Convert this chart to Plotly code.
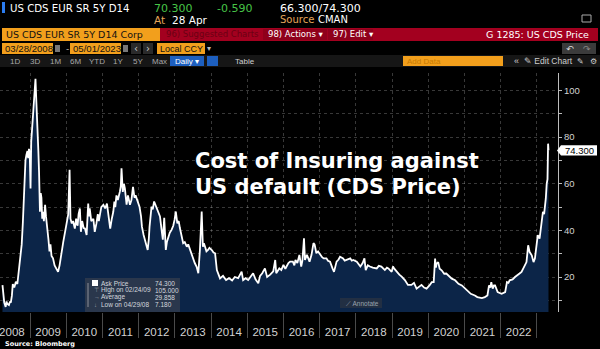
import plotly.graph_objects as go

# US CDS EUR SR 5Y D14 ask price, 2008-2023 (date, value)
dates = [
    "2008-03-28", "2008-04-05", "2008-04-15", "2008-04-29", "2008-05-08", "2008-05-15", "2008-06-01",
    "2008-06-12", "2008-06-20", "2008-07-01", "2008-07-10", "2008-07-25", "2008-08-10", "2008-08-25",
    "2008-09-05", "2008-09-20", "2008-10-01", "2008-10-08", "2008-10-20", "2008-10-28", "2008-11-05",
    "2008-11-15", "2008-11-25", "2008-12-05", "2008-12-12", "2008-12-20", "2008-12-28", "2009-01-05",
    "2009-01-12", "2009-01-20", "2009-01-28", "2009-02-05", "2009-02-12", "2009-02-24", "2009-03-05",
    "2009-03-12", "2009-03-18", "2009-03-25", "2009-04-01", "2009-04-10", "2009-04-18", "2009-04-25",
    "2009-05-03", "2009-05-10", "2009-05-20", "2009-06-01", "2009-06-10", "2009-06-25", "2009-07-05",
    "2009-07-15", "2009-07-25", "2009-08-05", "2009-08-20", "2009-09-05", "2009-09-25", "2009-10-10",
    "2009-10-25", "2009-11-10", "2009-11-20", "2009-12-01", "2009-12-20", "2010-01-05", "2010-01-20",
    "2010-02-03", "2010-02-12", "2010-02-25", "2010-03-10", "2010-03-28", "2010-04-10", "2010-04-25",
    "2010-05-05", "2010-05-18", "2010-05-28", "2010-06-10", "2010-06-25", "2010-07-08", "2010-07-25",
    "2010-08-10", "2010-08-18", "2010-08-25", "2010-09-10", "2010-10-01", "2010-10-15", "2010-11-01",
    "2010-11-15", "2010-11-25", "2010-12-05", "2010-12-20", "2011-01-10", "2011-01-28", "2011-02-15",
    "2011-03-05", "2011-03-20", "2011-04-05", "2011-04-20", "2011-05-01", "2011-05-10", "2011-05-22",
    "2011-06-05", "2011-06-25", "2011-07-05", "2011-07-12", "2011-07-25", "2011-08-05", "2011-08-15",
    "2011-09-01", "2011-09-15", "2011-10-05", "2011-10-20", "2011-11-05", "2011-11-20", "2011-12-01",
    "2011-12-25", "2012-01-10", "2012-01-25", "2012-02-03", "2012-02-20", "2012-03-05", "2012-04-01",
    "2012-04-12", "2012-04-20", "2012-05-10", "2012-05-22", "2012-06-05", "2012-06-25", "2012-07-15",
    "2012-08-03", "2012-08-20", "2012-09-01", "2012-09-15", "2012-10-01", "2012-10-12", "2012-10-25",
    "2012-11-10", "2012-11-28", "2012-12-15", "2012-12-28", "2013-01-10", "2013-01-25", "2013-02-08",
    "2013-02-20", "2013-03-10", "2013-03-25", "2013-04-10", "2013-05-01", "2013-05-15", "2013-06-03",
    "2013-06-20", "2013-07-05", "2013-07-20", "2013-08-08", "2013-08-25", "2013-09-10", "2013-09-28",
    "2013-10-10", "2013-10-20", "2013-11-01", "2013-11-15", "2013-12-01", "2013-12-15", "2014-01-08",
    "2014-01-25", "2014-02-10", "2014-02-28", "2014-04-01", "2014-05-01", "2014-06-01", "2014-07-01",
    "2014-08-01", "2014-08-28", "2014-10-01", "2014-11-05", "2014-11-20", "2014-12-15", "2015-01-10",
    "2015-02-01", "2015-03-01", "2015-03-25", "2015-04-22", "2015-05-10", "2015-06-01", "2015-06-28",
    "2015-07-20", "2015-08-20", "2015-09-20", "2015-10-10", "2015-10-20", "2015-11-20", "2015-12-10",
    "2016-01-01", "2016-01-20", "2016-02-01", "2016-02-20", "2016-03-08", "2016-04-05", "2016-04-20",
    "2016-05-01", "2016-05-20", "2016-06-10", "2016-06-28", "2016-07-10", "2016-07-26", "2016-08-05",
    "2016-08-25", "2016-09-20", "2016-10-10", "2016-10-30", "2016-11-10", "2016-11-28", "2016-12-15",
    "2017-01-05", "2017-01-25", "2017-02-10", "2017-03-10", "2017-03-25", "2017-04-15", "2017-05-10",
    "2017-05-25", "2017-06-20", "2017-07-10", "2017-07-25", "2017-08-25", "2017-09-10", "2017-10-01",
    "2017-11-05", "2017-11-20", "2017-12-05", "2018-01-10", "2018-02-15", "2018-03-10", "2018-03-28",
    "2018-04-10", "2018-05-01", "2018-05-22", "2018-06-20", "2018-07-30", "2018-08-20", "2018-09-15",
    "2018-10-20", "2018-11-10", "2018-11-25", "2018-12-28", "2019-01-10", "2019-01-25", "2019-02-25",
    "2019-03-15", "2019-04-08", "2019-05-10", "2019-06-10", "2019-07-15", "2019-08-10", "2019-09-05",
    "2019-10-05", "2019-10-25", "2019-11-20", "2019-12-15", "2020-01-15", "2020-02-05", "2020-02-25",
    "2020-03-10", "2020-03-18", "2020-03-25", "2020-04-10", "2020-04-25", "2020-05-15", "2020-06-10",
    "2020-07-01", "2020-07-20", "2020-08-25", "2020-09-28", "2020-11-01", "2020-12-05", "2021-01-10",
    "2021-02-10", "2021-03-05", "2021-04-15", "2021-05-10", "2021-06-25", "2021-07-25", "2021-08-20",
    "2021-09-05", "2021-09-18", "2021-09-28", "2021-10-12", "2021-10-25", "2021-11-05", "2021-12-01",
    "2022-01-10", "2022-02-15", "2022-03-05", "2022-03-20", "2022-04-01", "2022-05-01", "2022-05-25",
    "2022-06-20", "2022-07-10", "2022-07-30", "2022-09-01", "2022-09-18", "2022-10-05", "2022-10-12",
    "2022-10-20", "2022-11-10", "2022-11-28", "2022-12-12", "2022-12-28", "2023-01-10", "2023-01-28",
    "2023-02-10", "2023-02-18", "2023-03-03", "2023-03-15", "2023-03-25", "2023-04-01", "2023-04-10",
    "2023-04-18", "2023-04-24", "2023-04-28",
]
ask_price = [
    16.5, 12.0, 9.0, 7.18, 9.5, 8.5, 8.0,
    9.5, 9.0, 12.0, 17.0, 15.5, 18.0, 17.0,
    22.0, 28.0, 31.0, 34.0, 43.6, 52.0, 60.0,
    70.0, 72.5, 74.0, 71.0, 75.0, 73.0, 58.0,
    78.0, 84.0, 88.0, 91.0, 97.0, 105.0, 95.0,
    89.0, 82.0, 74.0, 65.0, 48.0, 56.0, 54.0,
    45.0, 48.0, 44.0, 51.0, 46.0, 41.0, 36.0,
    31.0, 34.0, 29.0, 28.0, 25.0, 23.6, 22.2,
    25.0, 30.6, 32.0, 35.0, 39.4, 43.6, 46.7,
    66.0, 45.0, 43.0, 44.0, 40.8, 45.0, 42.0,
    47.0, 49.4, 39.4, 44.0, 41.0, 40.8, 38.0,
    51.5, 46.0, 49.4, 44.0, 45.0, 39.4, 43.0,
    47.0, 44.0, 46.7, 50.0, 51.0, 49.4, 51.5,
    46.7, 40.8, 45.0, 48.0, 52.3, 50.0, 55.0,
    53.0, 56.5, 59.0, 66.6, 56.5, 60.0, 58.0,
    51.0, 55.0, 51.0, 53.0, 58.7, 54.0, 55.0,
    52.0, 50.0, 46.0, 41.6, 38.0, 36.0, 31.6,
    36.0, 41.6, 50.2, 49.0, 52.4, 50.2, 48.0,
    46.0, 40.0, 36.0, 45.4, 31.6, 35.0, 37.3,
    39.0, 40.2, 42.0, 44.5, 48.1, 43.0, 44.0,
    41.0, 37.0, 34.5, 35.0, 33.0, 34.0, 31.6,
    30.0, 28.0, 26.0, 24.4, 21.6, 31.6, 48.1,
    33.0, 34.5, 33.0, 31.0, 31.6, 32.5, 31.6,
    30.5, 30.2, 23.0, 19.4, 20.5, 18.7, 19.5,
    18.5, 20.0, 19.5, 22.3, 18.7, 19.5, 18.7,
    20.0, 21.6, 19.0, 17.3, 20.5, 21.6, 23.7,
    20.0, 21.0, 22.4, 27.3, 21.6, 23.7, 23.0,
    25.2, 23.5, 24.5, 26.0, 26.6, 26.6, 25.0,
    27.3, 26.0, 29.5, 24.5, 27.0, 36.6, 27.3,
    29.5, 26.6, 29.5, 34.5, 34.0, 30.2, 31.0,
    29.5, 28.5, 28.0, 28.0, 27.0, 26.6, 23.7,
    22.2, 26.6, 27.5, 28.7, 28.0, 27.0, 27.3,
    28.0, 27.0, 27.3, 26.6, 24.5, 26.0, 28.0,
    23.0, 25.0, 24.5, 24.0, 23.7, 24.8, 24.5,
    23.0, 24.0, 23.7, 22.2, 24.5, 23.5, 21.6,
    21.0, 20.2, 18.7, 16.6, 16.6, 17.5, 15.0,
    16.0, 16.6, 15.5, 15.0, 16.5, 17.8, 17.8,
    27.9, 24.0, 25.7, 26.4, 23.6, 22.9, 21.4,
    21.5, 20.7, 19.3, 18.6, 17.1, 16.4, 15.0,
    13.5, 12.8, 12.1, 11.4, 11.0, 11.4, 12.1,
    16.4, 15.5, 17.8, 15.0, 16.4, 16.4, 13.5,
    12.8, 13.5, 17.8, 17.5, 18.6, 19.0, 20.0,
    20.7, 21.5, 22.2, 25.0, 26.4, 33.6, 31.0,
    30.7, 29.3, 26.4, 27.9, 35.0, 38.0, 36.5,
    42.0, 45.0, 48.0, 47.0, 50.8, 53.7, 60.0,
    62.0, 77.2, 74.3,
]

year_labels = [str(y) for y in range(2008, 2023)]
year_label_pos = [f"{y}-07-01" for y in range(2008, 2023)]
y_tick_vals = list(range(10, 101, 10))
y_tick_text = [str(v) if v % 20 == 0 else "" for v in y_tick_vals]

stat_labels = ["Ask Price", "High on 02/24/09", "Average", "Low on 04/29/08"]
stat_values = [ask_price[-1], max(ask_price), 29.858, min(ask_price)]

# ---- layout geometry (pixel helpers for the terminal chrome) ----
W, H = 600, 349
PLOT_L, PLOT_R, PLOT_T, PLOT_B = 0, 558, 73, 312


def px(x):
    return (x - PLOT_L) / (PLOT_R - PLOT_L)


def py(y):
    return (PLOT_B - y) / (PLOT_B - PLOT_T)


HDR_FONT = "DejaVu Sans, sans-serif"
NARROW_FONT = "Liberation Sans, Arial, sans-serif"
ORANGE = "#f29f1c"
RED = "#a3001f"

fig = go.Figure()
fig.add_trace(go.Scatter(
    x=dates, y=ask_price, mode="lines",
    line=dict(color="white", width=1.8),
    fill="tozeroy", fillcolor="#0c2548",
    hoverinfo="skip", showlegend=False,
))

shapes = []
annotations = []


def rect(x0, y0, x1, y1, color, line=None):
    shapes.append(dict(type="rect", xref="paper", yref="paper",
                       x0=px(x0), x1=px(x1), y0=py(y1), y1=py(y0),
                       fillcolor=color, line=dict(width=0) if line is None else line,
                       layer="above"))


def text(x, y, s, color="white", size=11, anchor="left", family=HDR_FONT, bold=False):
    if bold:
        s = f"<b>{s}</b>"
    annotations.append(dict(xref="paper", yref="paper", x=px(x), y=py(y), text=s,
                            showarrow=False, xanchor=anchor, yanchor="middle",
                            font=dict(color=color, size=size, family=family)))


# row 1: security + last price
rect(2, 2, 5, 13, "#2b7cf0")
text(8, 8, "US CDS EUR SR 5Y D14", size=10.2)
text(152, 8, "70.300", color="#47c447", size=11)
text(215, 8, "-0.590", color="#47c447", size=11)
text(278, 8, "66.300/74.300", size=11)
# row 2
text(152, 20, "At", color="#e5a55a", size=10.5)
text(170, 20, "28 Apr", size=10.5)
text(278, 20, "Source", color="#e5a55a", size=10)
text(316, 20, "CMAN", size=10)
rect(582, 15, 591, 22, "rgba(0,0,0,0)", line=dict(color="#aaaaaa", width=1))
# row 3: security bar + menu bar
rect(2, 28, 160, 41, ORANGE)
text(4, 34.5, "US CDS EUR SR 5Y D14 Corp", color="#111111", size=9.5)
rect(160, 28, 598, 41, RED)
rect(263, 29, 327, 40, "#8f001b")
rect(328, 29, 373, 40, "#8f001b")
text(164, 34.5, "96) Suggested Charts", color="#6b0013", size=8.5)
text(266, 34.5, "98) Actions ▾", color="white", size=8.5)
text(331, 34.5, "97) Edit ▾", color="white", size=8.5)
text(591, 34.5, "G 1285: US CDS Price", color="white", size=9.5, anchor="right")
# row 4: date range
rect(2, 43, 53, 54, ORANGE)
text(3, 48.5, "03/28/2008", color="#111111", size=9.6, family=NARROW_FONT)
rect(55, 45, 60, 52, "#777777")
text(64, 48.5, "-", color="#bbbbbb", size=9)
rect(70, 43, 121, 54, ORANGE)
text(71, 48.5, "05/01/2023", color="#111111", size=9.6, family=NARROW_FONT)
rect(123, 45, 128, 52, "#777777")
rect(131, 43, 141, 54, "#2a2a2a")
rect(143, 43, 153, 54, "#2a2a2a")
text(136, 48.5, "‹", color="#cccccc", size=10, anchor="center")
text(148, 48.5, "›", color="#cccccc", size=10, anchor="center")
rect(157, 43, 205, 54, ORANGE)
text(158, 48.5, "Local CCY", color="#111111", size=9, family=NARROW_FONT)
text(209, 48.5, "▾", color="#bbbbbb", size=8, anchor="center")
rect(562, 43, 596, 54, "#3b3b3b")
text(570, 48.5, "↶", color="#dddddd", size=9, anchor="center")
text(587, 48.5, "↷", color="#888888", size=9, anchor="center")
# row 5: periodicity toolbar
rect(0, 55, 600, 67, "#161616")
for lbl, xx in [("1D", 8), ("3D", 28), ("1M", 48), ("6M", 68), ("YTD", 87), ("1Y", 111),
                ("5Y", 131), ("Max", 150)]:
    text(xx, 61, lbl, color="#a8a8a8", size=8, family=NARROW_FONT)
rect(170, 56, 204, 66, "#1d5fbf")
text(173, 61, "Daily ▾", color="white", size=8, family=NARROW_FONT)
rect(207, 56, 218, 66, "#1d5fbf")
text(233, 61, "Table", color="#cfcfcf", size=8, family=NARROW_FONT)
rect(403, 56, 503, 66, ORANGE)
text(405, 61, "Add Data", color="#c77a00", size=8, family=NARROW_FONT)
text(512, 61, "«", color="#cfcfcf", size=9, family=NARROW_FONT)
text(522, 61, "✎ Edit Chart", color="#cfcfcf", size=8.5, family=NARROW_FONT)
text(575, 61, "✎", color="#cfcfcf", size=8)
text(588, 61, "⚙", color="#cfcfcf", size=8)

# title overlay
text(193, 161, "Cost of Insuring against", size=21, bold=True)
text(193, 187, "US default (CDS Price)", size=21, bold=True)

# statistics box
rect(85, 278, 180, 312, "rgba(52,62,78,0.75)")
shapes.append(dict(type="line", xref="paper", yref="paper", x0=px(88), x1=px(88),
                   y0=py(307), y1=py(283), line=dict(color="#8a8f99", width=1), layer="above"))
rect(92, 280, 98, 286, "white")
marks = ["", "⊤", "→", "↓"]
for i, (lbl, val) in enumerate(zip(stat_labels, stat_values)):
    yy = 283 + i * 7.2
    if marks[i]:
        text(92, yy, marks[i], color="#9aa0aa", size=6, family=NARROW_FONT)
    text(99, yy, lbl, color="#d5d8de", size=6.5, family=NARROW_FONT)
    text(153, yy, f"{val:.3f}", color="#d5d8de", size=6.5, family=NARROW_FONT)

# annotate button
rect(340, 298, 382, 308, "rgba(40,50,66,0.8)")
text(344, 303, "⟋ Annotate", color="#9aa3b0", size=6.5, family=NARROW_FONT)

# last value tag on the price axis
last = ask_price[-1]
shapes.append(dict(type="path", xref="paper", yref="y",
                   path=(f"M {px(557)} {last} L {px(561)} {last + 2.2} L {px(597)} {last + 2.2} "
                         f"L {px(597)} {last - 2.2} L {px(561)} {last - 2.2} Z"),
                   fillcolor="white", line=dict(width=0), layer="above"))
annotations.append(dict(xref="paper", yref="y", x=px(579), y=last, text=f"{last:.3f}",
                        showarrow=False, xanchor="center", yanchor="middle",
                        font=dict(color="black", size=9.5, family=NARROW_FONT)))

# footer
text(3, 344, "Source: Bloomberg", size=6.5, bold=True)

fig.update_layout(
    width=W, height=H,
    margin=dict(l=PLOT_L, r=W - PLOT_R, t=PLOT_T, b=H - PLOT_B),
    paper_bgcolor="black", plot_bgcolor="black",
    shapes=shapes, annotations=annotations,
    xaxis=dict(
        type="date", range=["2008-03-03", "2023-08-02"],
        tickmode="array", tickvals=year_label_pos, ticktext=year_labels,
        ticks="outside", ticklen=9, tickcolor="rgba(0,0,0,0)",
        ticklabeloverflow="allow",
        showgrid=False, zeroline=False, showline=False,
        tickfont=dict(color="#d2d2d2", size=11.5, family=NARROW_FONT),
        minor=dict(dtick="M12", tick0="2008-01-01", ticks="outside", ticklen=25,
                   tickcolor="#4a4a4a", tickwidth=1, showgrid=True,
                   gridcolor="rgba(255,255,255,0.22)", griddash="dot", gridwidth=1),
        fixedrange=True,
    ),
    yaxis=dict(
        side="right", range=[5, 107.5],
        tickmode="array", tickvals=y_tick_vals, ticktext=y_tick_text,
        ticks="outside", ticklen=3, tickcolor="#bbbbbb",
        showgrid=True, gridcolor="rgba(255,255,255,0.22)", griddash="dot",
        showline=True, linecolor="#bdbdbd", linewidth=1, zeroline=False,
        tickfont=dict(color="#d2d2d2", size=9.5, family=NARROW_FONT),
        fixedrange=True,
    ),
)

fig.write_html("out.html", config={"displayModeBar": False})
